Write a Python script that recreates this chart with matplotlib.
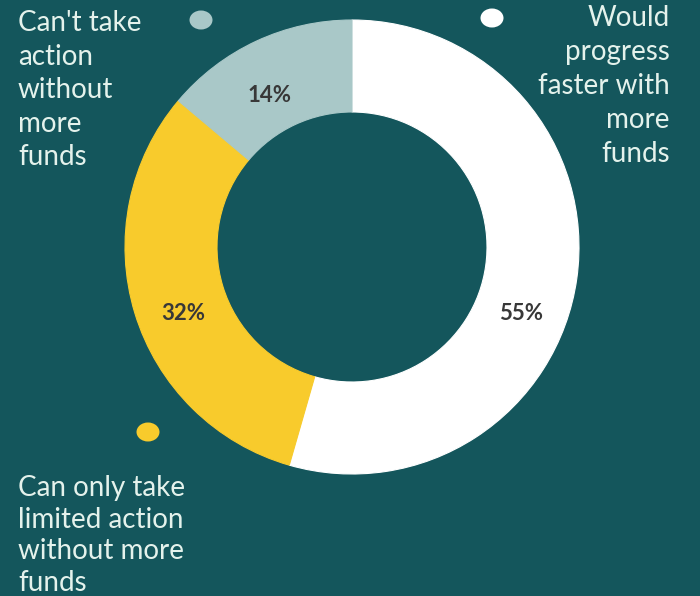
import matplotlib
matplotlib.use("Agg")
from matplotlib import pyplot as plt
from matplotlib.patches import Ellipse

# data
labels = ["Would\nprogress\nfaster with\nmore\nfunds",
          "Can only take\nlimited action\nwithout more\nfunds",
          "Can't take\naction\nwithout\nmore\nfunds"]
values = [55, 32, 14]
colors = ["#ffffff", "#f8cb2c", "#a9c8c8"]

bg = "#14565c"
txt = "#e4f2ec"

fig = plt.figure(figsize=(7, 5.96), dpi=100)
fig.patch.set_facecolor(bg)
ax = fig.add_axes([0, 0, 1, 1])
ax.set_facecolor(bg)

cx, cy, r = 352, 349, 227
wedges, _ = ax.pie(values, colors=colors, radius=r, center=(cx, cy),
                   startangle=90, counterclock=False,
                   wedgeprops=dict(width=92, linewidth=0.8), frame=True)
for w, c in zip(wedges, colors):
    w.set_edgecolor(c)
ax.set_xlim(0, 700)
ax.set_ylim(0, 596)
ax.set_aspect("equal")
ax.axis("off")

# percentage labels
pct_pos = [(521, 283), (183, 283), (270, 501)]
for (x, y), v in zip(pct_pos, values):
    ax.text(x, y, f"{v}%", ha="center", va="center", fontsize=16,
            fontweight="bold", color="#383838", family="Lato")

# legend dots
dot_pos = [(492, 578), (148, 164), (201, 576)]
for (x, y), c in zip(dot_pos, colors):
    ax.add_patch(Ellipse((x, y), 23, 19, facecolor=c, edgecolor="none"))

# legend texts
ax.text(670, 591, labels[0], ha="right", va="top", fontsize=20,
        color=txt, family="Lato", linespacing=1.38)
ax.text(18, 121, labels[1], ha="left", va="top", fontsize=20,
        color=txt, family="Lato", linespacing=1.27)
ax.text(18, 586, labels[2], ha="left", va="top", fontsize=20,
        color=txt, family="Lato", linespacing=1.36)

fig.savefig("out.png", dpi=100, facecolor=bg)
